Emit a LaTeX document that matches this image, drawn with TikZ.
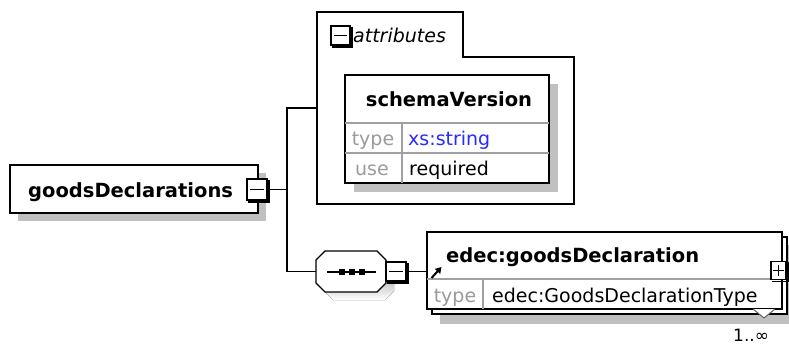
\documentclass[tikz,border=0pt]{standalone}
\usepackage{fontspec}
\setmainfont{DejaVu Sans}
\usetikzlibrary{arrows.meta}

\definecolor{shade}{HTML}{C0C0C0}
\definecolor{rulegray}{HTML}{A0A0A0}
\definecolor{faint}{HTML}{9A9A9A}
\definecolor{typeblue}{HTML}{2A2AFF}
\definecolor{markgray}{HTML}{606060}

\tikzset{
  box/.style={rectangle, draw=black, line width=1.4pt, fill=white, inner sep=0pt},
  shadowbox/.style={rectangle, fill=shade, draw=none, inner sep=0pt},
  ghost/.style={rectangle, draw=none, inner sep=0pt},
  btn/.style={rectangle, draw=black, line width=1.4pt, fill=white, inner sep=0pt},
  elname/.style={font=\bfseries\fontsize{19.5}{22}\selectfont, inner sep=0pt, anchor=base west},
  valtext/.style={font=\fontsize{19}{22}\selectfont, inner sep=0pt, anchor=base west},
  keytext/.style={font=\fontsize{19}{22}\selectfont, text=faint, inner sep=0pt, anchor=base},
  wire/.style={line width=1.4pt},
  divider/.style={draw=rulegray, line width=1.2pt},
}

% thick lower-right edge of an expand/collapse button
\newcommand\btnedge[1]{%
  \draw[line width=1.4pt] ([shift={(1.4,1.5)}]#1.north east) -- ([shift={(1.4,1.4)}]#1.south east)
        -- ([shift={(1.5,1.4)}]#1.south west);}
\newcommand\btnminus[1]{%
  \draw[line width=1.3pt] ([shift={(4,0)}]#1.west) -- ([shift={(-4,0)}]#1.east);}
\newcommand\btnplus[1]{%
  \draw[line width=1.3pt] ([shift={(3,0)}]#1.west) -- ([shift={(-3,0)}]#1.east);
  \draw[line width=1.3pt] ([shift={(0,4)}]#1.north) -- ([shift={(0,-4)}]#1.south);}
% outline of the sequence compositor
\newcommand\seqoutline{(325,251) -- (377,251) -- (386,260) -- (386,283)
      -- (377,292) -- (325,292) -- (316,283) -- (316,260) -- cycle}

\begin{document}
\begin{tikzpicture}[x=1pt, y=-1pt]
\useasboundingbox (0,0) rectangle (789,345);
\fill[white] (0,0) rectangle (789,345);

% ---------- root element ----------
\node[shadowbox, minimum width=248pt, minimum height=48pt] at (142,197) {};
\node[box, minimum width=248pt, minimum height=48pt] (root) at (134,189) {};
\node[elname] (rootname) at (28,197) {goodsDeclarations};
\node[btn, minimum width=20pt, minimum height=21pt] (rootbtn) at (257,189.5) {};
\btnedge{rootbtn}
\btnminus{rootbtn}

% ---------- attributes group ----------
\node[ghost, minimum width=257pt, minimum height=192pt] (attr) at (445.5,108) {};
\draw[line width=1.4pt, fill=white] (317,12) -- (463,12) -- (463,57) -- (574,57)
      -- (574,204) -- (317,204) -- cycle;
\node[btn, minimum width=19pt, minimum height=19pt] (attrbtn) at (340.5,35.5) {};
\btnedge{attrbtn}
\btnminus{attrbtn}
\node[font=\itshape\fontsize{19}{22}\selectfont, inner sep=0pt, anchor=base west]
      (attrlabel) at (353,42) {attributes};

% schemaVersion attribute
\node[shadowbox, minimum width=204pt, minimum height=108pt] at (456,138) {};
\node[box, minimum width=204pt, minimum height=108pt] (sv) at (447,129) {};
\draw[divider] (345,123) -- (549,123);
\draw[divider] (345,153) -- (549,153);
\draw[divider] (402,123) -- (402,183);
\draw[line width=1.4pt] (sv.north west) rectangle (sv.south east);
\node[font=\bfseries\fontsize{19.5}{22}\selectfont, inner sep=0pt, anchor=base]
      (svname) at (449,106) {schemaVersion};
\node[keytext] (svtypekey) at (373,145) {type};
\node[valtext, text=typeblue] (svtype) at (408,145) {xs:string};
\node[keytext] (svusekey) at (372,175) {use};
\node[valtext] (svuse) at (409,175) {required};

% ---------- sequence compositor ----------
\begin{scope}[shift={(8,8)}]
  \fill[shade] \seqoutline;
\end{scope}
\draw[line width=1.4pt, fill=white] \seqoutline;
\node[ghost, minimum width=70pt, minimum height=41pt] (seq) at (351,271.5) {};
\draw[line width=1.3pt] (327,272) -- (376,272);
\foreach \dx in {342,352,362}
  \fill (\dx-2.7,269.3) rectangle (\dx+2.7,274.7);
\node[btn, minimum width=20pt, minimum height=19pt] (seqbtn) at (396,271.5) {};
\btnedge{seqbtn}
\btnminus{seqbtn}

% ---------- repeated child element ----------
\node[shadowbox, minimum width=355pt, minimum height=79pt] (elshadow) at (617.5,284.5) {};
\node[box, minimum width=355pt, minimum height=77pt] (elback) at (609.5,275.5) {};
\node[box, minimum width=355pt, minimum height=77pt] (el) at (604.5,270.5) {};
\draw[divider] (427,279) -- (782,279);
\draw[divider] (483,279) -- (483,309);
\draw[line width=1.4pt] (el.north west) rectangle (el.south east);
\node[elname] (elname) at (446,262) {edec:goodsDeclaration};
\node[keytext] (eltypekey) at (455,302) {type};
\node[valtext] (eltype) at (492,302) {edec:GoodsDeclarationType};
% reference arrow
\draw[line width=2pt, -{Triangle[length=6pt, width=7pt]}] (431.5,278) -- (441.5,267);
% expand button
\node[btn, minimum width=15pt, minimum height=18pt] (elbtn) at (778.5,270.5) {};
\btnedge{elbtn}
\btnplus{elbtn}
% occurrence mark
\draw[markgray, line width=1pt, fill=white] (753,309) -- (764,318) -- (775,309);
\node[font=\fontsize{17}{20}\selectfont, inner sep=0pt, anchor=base west]
      (occurs) at (733,341) {1..∞};

% ---------- connectors ----------
\coordinate (fork) at (287,189.5);
\coordinate (forktop) at (287,108);
\coordinate (forkbot) at (287,271.5);
\draw[wire] (rootbtn.east) ++(1.4,0) -- (fork);
\draw[wire] (forktop -| attr.west) -- (forktop) -- (forkbot) -- (seq.west);
\draw[wire] ([xshift=1.4pt]seqbtn.east) -- (seqbtn.east -| el.west);
\end{tikzpicture}
\end{document}
